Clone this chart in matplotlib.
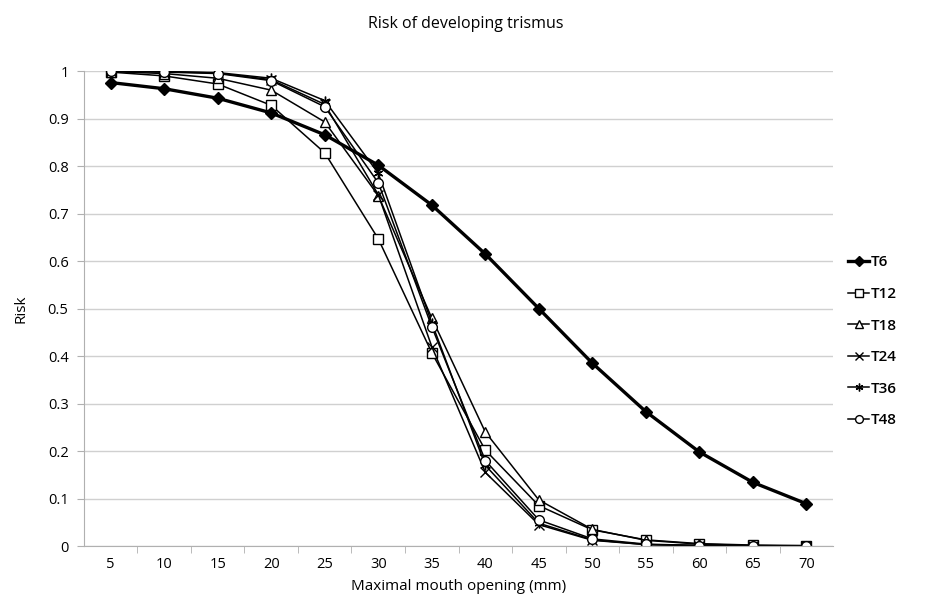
import matplotlib.pyplot as plt
import numpy as np

# data
opening = [5, 10, 15, 20, 25, 30, 35, 40, 45, 50, 55, 60, 65, 70]
t6 = [0.976, 0.963, 0.943, 0.912, 0.866, 0.802, 0.718, 0.615, 0.500, 0.385, 0.283, 0.198, 0.134, 0.089]
t12 = [0.998, 0.990, 0.973, 0.928, 0.828, 0.647, 0.407, 0.202, 0.085, 0.034, 0.013, 0.005, 0.002, 0.001]
t18 = [0.999, 0.995, 0.985, 0.960, 0.893, 0.738, 0.480, 0.240, 0.097, 0.035, 0.012, 0.004, 0.001, 0.000]
t24 = [1.000, 0.999, 0.996, 0.982, 0.930, 0.740, 0.420, 0.155, 0.045, 0.012, 0.003, 0.001, 0.000, 0.000]
t36 = [1.000, 0.999, 0.997, 0.985, 0.938, 0.785, 0.470, 0.170, 0.048, 0.013, 0.003, 0.001, 0.000, 0.000]
t48 = [1.000, 0.998, 0.995, 0.980, 0.925, 0.765, 0.462, 0.180, 0.055, 0.015, 0.004, 0.001, 0.000, 0.000]

plt.rcParams['font.family'] = ['Open Sans', 'DejaVu Sans']

fig = plt.figure(figsize=(9.32, 6.03), dpi=100)
ax = fig.add_axes([0.090, 0.0945, 0.804, 0.7875])

ax.plot(opening, t6, color='black', lw=2.4, marker='D', ms=6.5, mfc='black', label='T6', zorder=5)
thin = dict(color='black', lw=1.1, ms=7, mfc='white', mew=1.0)
ax.plot(opening, t12, marker='s', label='T12', **thin)
ax.plot(opening, t18, marker='^', label='T18', **thin)
ax.plot(opening, t24, marker='x', label='T24', **thin)
ax.plot(opening, t36, marker=(6, 2, 0), label='T36', **thin)
ax.plot(opening, t48, marker='o', label='T48', **thin)

ax.set_xlim(2.5, 72.5)
ax.set_ylim(0, 1)
ax.set_xticks(opening)
ax.set_xticks(np.arange(7.5, 72.5, 5), minor=True)
ax.tick_params(axis='x', which='major', length=0, labelsize=10.5, pad=8)
ax.tick_params(axis='x', which='minor', length=5, color='#b0b0b0', direction='out')
ax.set_yticks(np.arange(0, 1.01, 0.1))
ax.set_yticklabels(['0', '0.1', '0.2', '0.3', '0.4', '0.5', '0.6', '0.7', '0.8', '0.9', '1'])
ax.tick_params(axis='y', length=5, color='#b0b0b0', labelsize=10.5, pad=6)
ax.yaxis.grid(True, color='#d0d0d0', lw=1)
ax.set_axisbelow(True)
for s in ['top', 'right']:
	ax.spines[s].set_visible(False)
for s in ['left', 'bottom']:
	ax.spines[s].set_color('#b0b0b0')

ax.set_xlabel('Maximal mouth opening (mm)', fontsize=11, labelpad=5)
ax.set_ylabel('Risk', fontsize=11, labelpad=14)
fig.text(0.5, 0.96, 'Risk of developing trismus', ha='center', va='center', fontsize=11.5)

ax.legend(loc='center left', bbox_to_anchor=(0.895, 0.434), bbox_transform=fig.transFigure,
	frameon=False, handlelength=1.4, handletextpad=0.1, labelspacing=1.15,
	markerscale=0.8, prop={'weight': 'semibold', 'size': 11})

fig.savefig('out.png', dpi=100)
